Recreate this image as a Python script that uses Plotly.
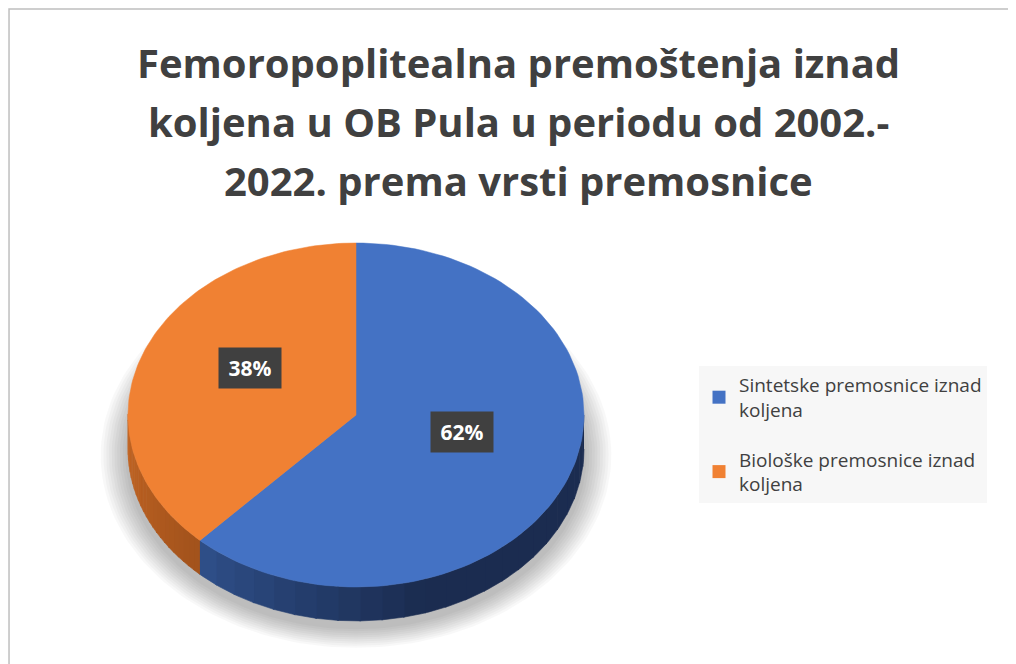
import numpy as np
import plotly.graph_objects as go

# ---- data ----
categories = ["Sintetske premosnice iznad<br>koljena", "Biološke premosnice iznad<br>koljena"]
shares = [62, 38]
labels = ["62%", "38%"]
title_lines = ["Femoropoplitealna premoštenja iznad",
               "koljena u OB Pula u periodu od 2002.-",
               "2022. prema vrsti premosnice"]

# ---- style ----
top_colors = ["#4472C4", "#F08133"]
side_colors = [("#2E4E87", "#1B2C50"), ("#A3531C", "#C46624")]
W, H = 1016, 664
OFF = 8  # page body margin: axes use page-pixel coordinates
cx, cy, rx, ry, depth = 356, 415, 228, 172, 34


def pt(theta_deg, dy=0.0, f=1.0):
    t = np.radians(theta_deg)
    return cx + f * rx * np.sin(t), cy - f * ry * np.cos(t) + dy


def py(p):  # page y -> paper y
    return 1 - (p - OFF) / H


def px(p):  # page x -> paper x
    return (p - OFF) / W


fig = go.Figure()

# soft shadow
for i in range(10):
    s = 1.0 + 0.012 * (10 - i)
    t = np.linspace(0, 2 * np.pi, 200)
    fig.add_trace(go.Scatter(
        x=cx + rx * s * np.sin(t), y=cy + 30 + ry * s * np.cos(t) + depth * 0.3,
        mode="lines", fill="toself", line=dict(width=0),
        fillcolor="rgba(0,0,0,0.026)", hoverinfo="skip", showlegend=False))

total = float(sum(shares))
bounds = np.cumsum([0] + shares) / total * 360.0

# side faces (visible front half: 90..270 deg clockwise from top)
for k in range(len(shares)):
    a0, a1 = max(bounds[k], 90.0), min(bounds[k + 1], 270.0)
    if a1 <= a0:
        continue
    nseg = 24
    edges = np.linspace(a0, a1, nseg + 1)
    c0 = np.array([int(side_colors[k][0][i:i + 2], 16) for i in (1, 3, 5)])
    c1 = np.array([int(side_colors[k][1][i:i + 2], 16) for i in (1, 3, 5)])
    for j in range(nseg):
        th = np.linspace(edges[j], edges[j + 1] + 0.3, 6)
        xs_t, ys_t = pt(th)
        xs_b, ys_b = pt(th[::-1], dy=depth)
        frac = j / (nseg - 1)
        if k == 0:
            c = c1 + (c0 - c1) * max(0.0, (frac - 0.55) / 0.45)
        else:
            c = c0 + (c1 - c0) * frac
        col = "rgb(%d,%d,%d)" % tuple(c.astype(int))
        fig.add_trace(go.Scatter(
            x=np.concatenate([xs_t, xs_b]), y=np.concatenate([ys_t, ys_b]),
            mode="lines", fill="toself", line=dict(width=0.6, color=col),
            fillcolor=col, hoverinfo="skip", showlegend=False))

# top faces
for k in range(len(shares)):
    th = np.linspace(bounds[k], bounds[k + 1], 120)
    xs, ys = pt(th)
    fig.add_trace(go.Scatter(
        x=np.concatenate([[cx], xs, [cx]]), y=np.concatenate([[cy], ys, [cy]]),
        mode="lines", fill="toself", line=dict(width=0.5, color=top_colors[k]),
        fillcolor=top_colors[k], hoverinfo="skip", showlegend=False))

# legend entries
for k in range(len(shares)):
    fig.add_trace(go.Scatter(
        x=[None], y=[None], mode="markers", name=categories[k],
        legendgroup="g%d" % k,
        marker=dict(symbol="square", size=13, color=top_colors[k])))

# data labels
for k in range(len(shares)):
    mid = (bounds[k] + bounds[k + 1]) / 2
    lx, ly = pt(mid, dy=-15, f=0.5)
    fig.add_annotation(
        x=lx, y=ly, text="<b>%s</b>" % labels[k], showarrow=False,
        font=dict(family="Open Sans", size=21, color="white"),
        bgcolor="#404040", width=60, height=38)

# title, one annotation per line for Calibri-like line spacing
for i, line in enumerate(title_lines):
    fig.add_annotation(
        x=px(518), y=py(62 + 59 * i), xref="paper", yref="paper",
        text="<b>%s</b>" % line, showarrow=False,
        font=dict(family="Open Sans", size=40, color="#404040"),
        xanchor="center", yanchor="middle")

fig.add_shape(type="rect", xref="paper", yref="paper",
              x0=0.001, y0=-0.02, x1=1.02, y1=py(9),
              line=dict(color="#BFBFBF", width=1.5))

fig.update_layout(
    width=W, height=H, margin=dict(l=0, r=0, t=0, b=0),
    paper_bgcolor="white", plot_bgcolor="white",
    xaxis=dict(range=[OFF, W + OFF], visible=False, fixedrange=True),
    yaxis=dict(range=[H + OFF, OFF], visible=False, fixedrange=True),
    showlegend=True,
    legend=dict(x=px(699), y=py(366), xanchor="left", yanchor="top",
                bgcolor="#F7F7F7", tracegroupgap=22,
                font=dict(family="Open Sans", size=19, color="#404040")),
)

fig.write_html("out.html")
